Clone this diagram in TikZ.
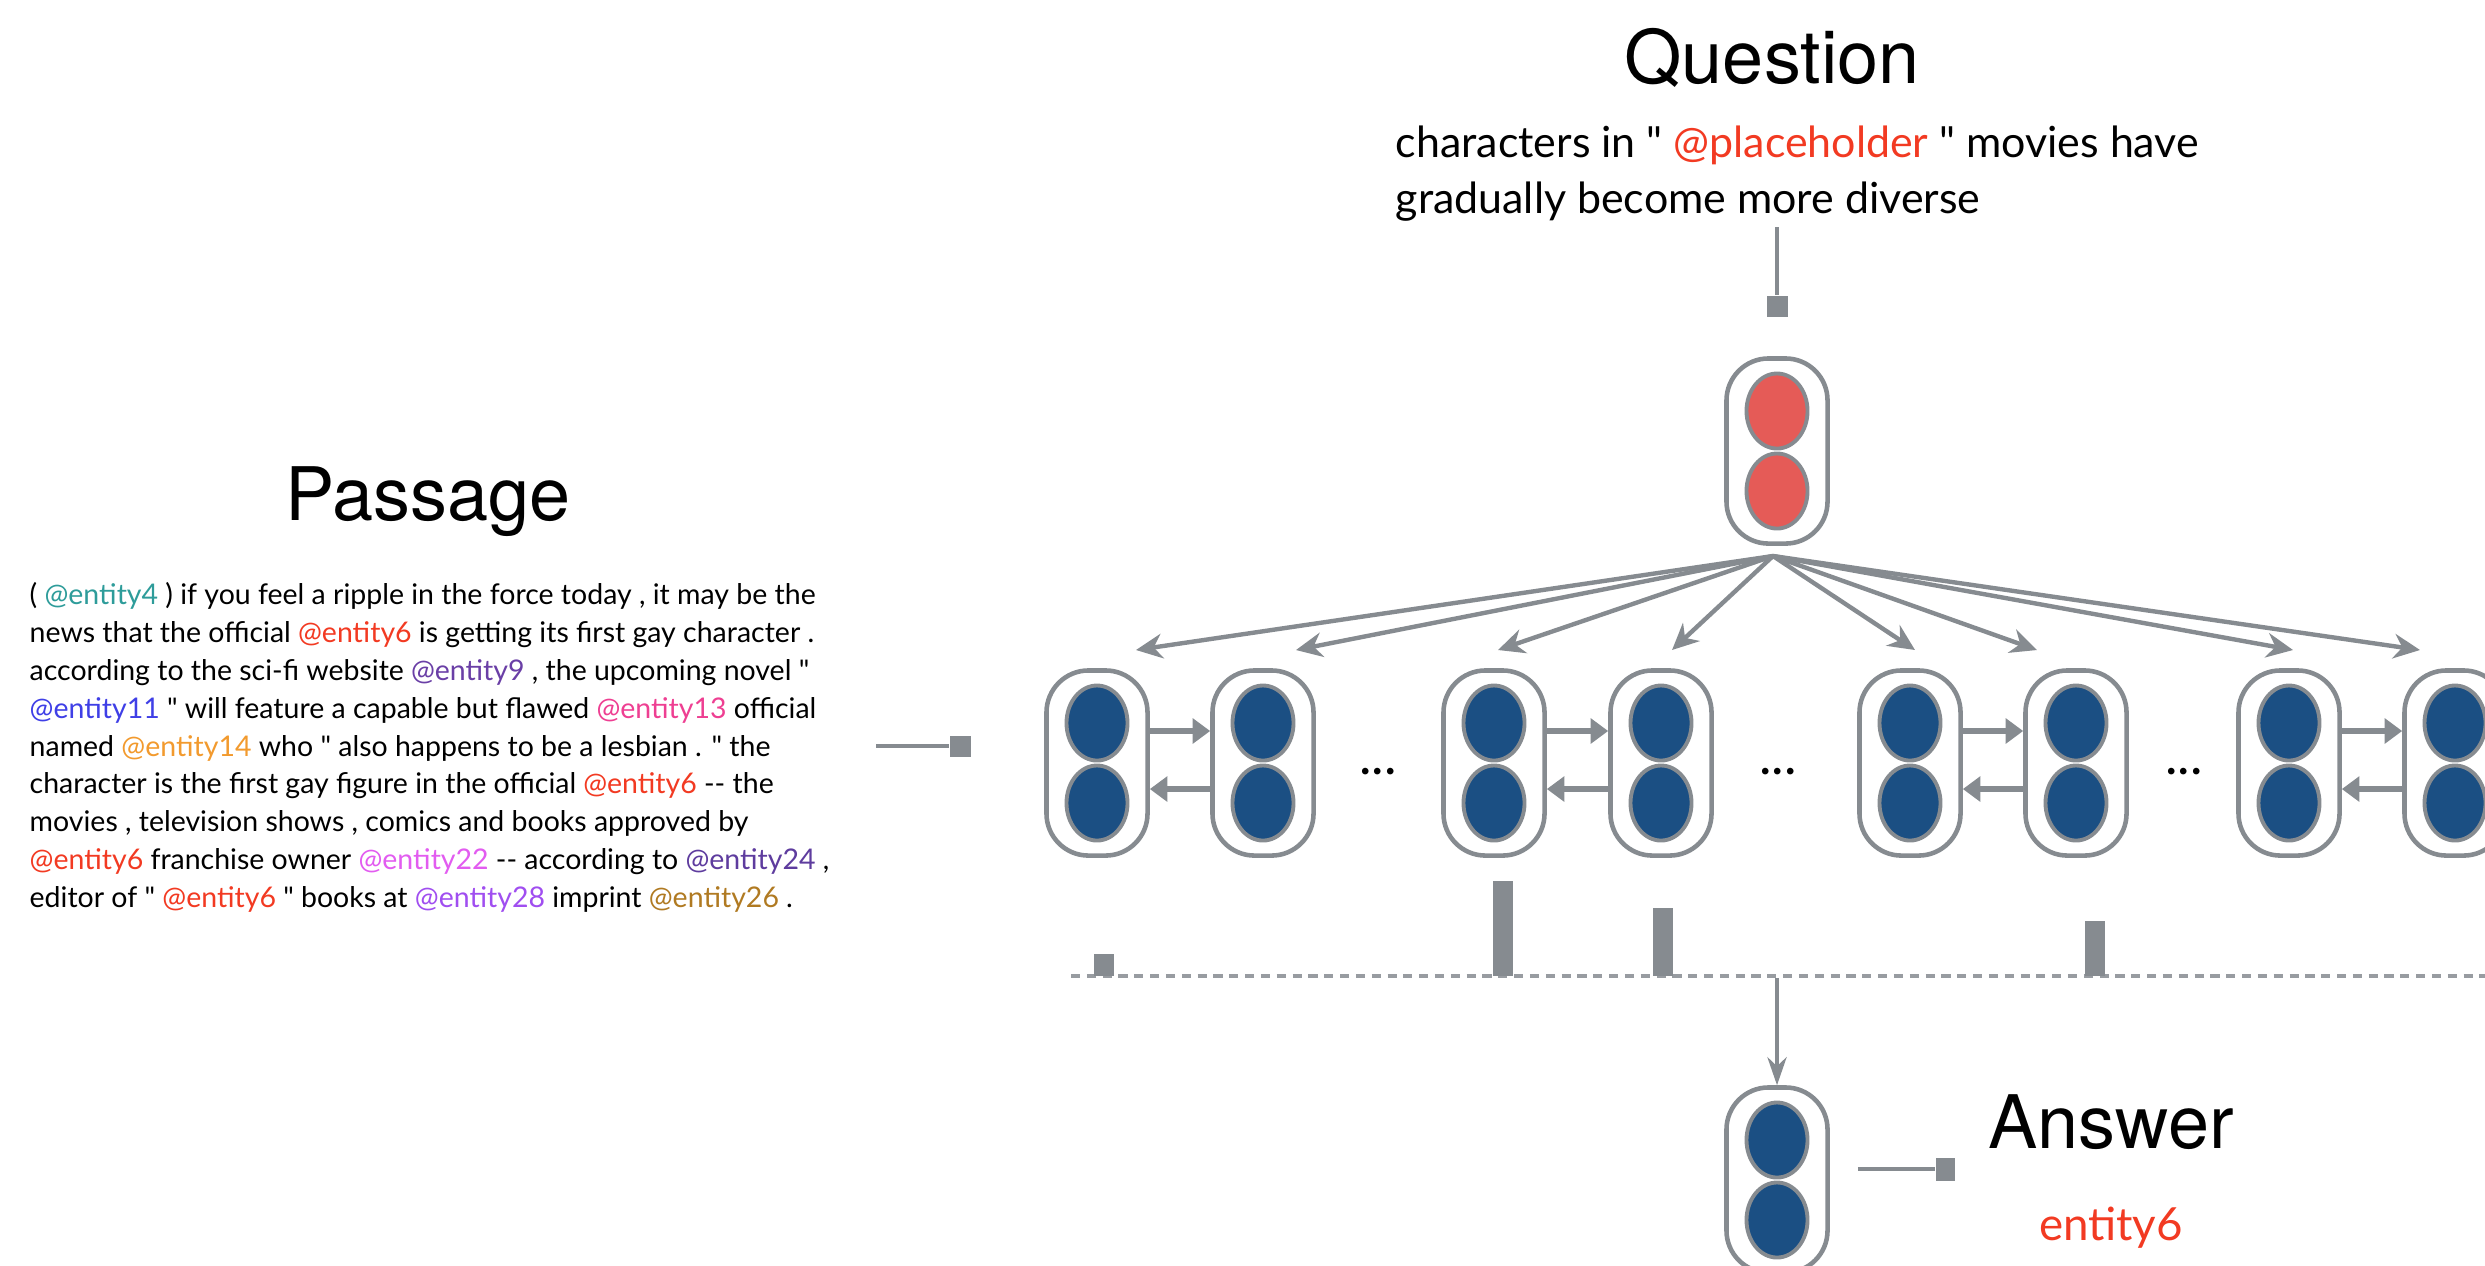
\documentclass[tikz,border=0pt]{standalone}
\usepackage{fontspec}
\setmainfont{Lato}[Ligatures=TeXOff]
\newfontfamily\titlefont{TeX Gyre Heros}
\usetikzlibrary{arrows.meta,positioning,shapes.geometric}

\definecolor{linegray}{HTML}{868B90}
\definecolor{cellblue}{HTML}{1B4F83}
\definecolor{qred}{HTML}{E55B57}
\definecolor{ered}{HTML}{F23A22}
\definecolor{eteal}{HTML}{2E9C9A}
\definecolor{epurple}{HTML}{6A3FA6}
\definecolor{eblue}{HTML}{3F3FE6}
\definecolor{epink}{HTML}{EE3F92}
\definecolor{eorange}{HTML}{F29A2E}
\definecolor{emagenta}{HTML}{E25CF0}
\definecolor{edpurple}{HTML}{5E3C9E}
\definecolor{eviolet}{HTML}{A04EF0}
\definecolor{ebrown}{HTML}{B07A22}

\newcommand{\qt}{\char34}

\tikzset{
  cell/.style={draw=linegray, line width=1.3pt, rounded corners=0.42cm,
    minimum width=1.01cm, minimum height=1.85cm, inner sep=0pt},
  unit/.style={ellipse, draw=linegray, line width=1.1pt, inner sep=0pt,
    minimum width=0.61cm, minimum height=0.75cm},
  bunit/.style={unit, fill=cellblue},
  runit/.style={unit, fill=qred},
  fan/.style={draw=linegray, line width=1.25pt, -{Stealth[length=7.5pt,width=7pt]}},
  rarr/.style={draw=linegray, line width=1.8pt, -{Triangle[length=5pt,width=7pt]}},
  downarr/.style={draw=linegray, line width=0.9pt, -{Stealth[length=8pt,width=5.5pt]}},
  conn/.style={draw=linegray, line width=1.1pt},
  sq/.style={fill=linegray, inner sep=0pt, minimum size=0.21cm},
  title/.style={font=\titlefont\fontsize{21}{24}\selectfont},
  dots/.style={font=\fontsize{15}{16}\selectfont},
}

\begin{document}
\begin{tikzpicture}[x=0.01cm, y=-0.01cm]
  \useasboundingbox (0,0) rectangle (2485,1265);

  % titles
  \node[title] (qtitle) at (1772,58) {Question};
  \node[title] (ptitle) at (428,502) {Passage};
  \node[title] (atitle) at (2111,1122) {Answer};
  \node[font=\fontsize{13}{15}\selectfont, text=ered] (ans) at (2111,1228) {entity6};

  % question text
  \node[anchor=north west, inner sep=0pt, align=left,
    font=\fontsize{12.2}{15.9}\selectfont] (qtext) at (1395,125)
    {characters in \qt{} \textcolor{ered}{@placeholder} \qt{} movies have\\
     gradually become more diverse};

  % passage text
  \node[anchor=north west, inner sep=0pt, align=left,
    font=\fontsize{8.1}{10.75}\selectfont] (ptext) at (29,582)
    {( \textcolor{eteal}{@entity4} ) if you feel a ripple in the force today , it may be the\\
     news that the official \textcolor{ered}{@entity6} is getting its first gay character .\\
     according to the sci-fi website \textcolor{epurple}{@entity9} , the upcoming novel \qt\\
     \textcolor{eblue}{@entity11} \qt{} will feature a capable but flawed \textcolor{epink}{@entity13} official\\
     named \textcolor{eorange}{@entity14} who \qt{} also happens to be a lesbian . \qt{} the\\
     character is the first gay figure in the official \textcolor{ered}{@entity6} -{}- the\\
     movies , television shows , comics and books approved by\\
     \textcolor{ered}{@entity6} franchise owner \textcolor{emagenta}{@entity22} -{}- according to \textcolor{edpurple}{@entity24} ,\\
     editor of \qt{} \textcolor{ered}{@entity6} \qt{} books at \textcolor{eviolet}{@entity28} imprint \textcolor{ebrown}{@entity26} .};

  % input connectors
  \coordinate (qin) at (1777,227);
  \node[sq] (qsq) at (1777,306) {};
  \draw[conn] (qin) -- (qsq);
  \coordinate (pin) at (876,746);
  \node[sq] (psq) at (960,746) {};
  \draw[conn] (pin) -- (psq);

  % question encoding
  \node[cell] (q) at (1777,451) {};
  \node[runit] (qt) at (1777,411) {};
  \node[runit] (qb) at (1777,491) {};

  % passage encoding
  \foreach \i/\x in {1/1097,2/1263,3/1494,4/1661,5/1910,6/2076,7/2289,8/2455} {
    \node[cell] (c\i) at (\x,763) {};
    \node[bunit] (c\i t) at (\x,723) {};
    \node[bunit] (c\i b) at (\x,803) {};
  }
  \foreach \a/\b in {1/2,3/4,5/6,7/8} {
    \draw[rarr] ([yshift=0.32cm]c\a.east) -- ([yshift=0.32cm]c\b.west);
    \draw[rarr] ([yshift=-0.26cm]c\b.west) -- ([yshift=-0.26cm]c\a.east);
  }
  \node[dots] (d1) at (1378,772) {...};
  \node[dots] (d2) at (1778,772) {...};
  \node[dots] (d3) at (2184,772) {...};

  % attention from question
  \coordinate (qs) at (1773,556);
  \foreach \i/\x in {1/1136,2/1296,3/1498,4/1672,5/1915,6/2037,7/2293,8/2420} {
    \coordinate (t\i) at (\x,650);
    \draw[fan] (qs) -- (t\i);
  }

  % attention weights
  \draw[linegray!85, line width=1.4pt, dash pattern=on 2.6pt off 1.9pt] (1071,976) -- (2485,976);
  \fill[linegray] (1094,954) rectangle (1114,976);
  \fill[linegray] (1493,881) rectangle (1513,976);
  \fill[linegray] (1653,908) rectangle (1673,976);
  \fill[linegray] (2085,921) rectangle (2105,976);

  % answer
  \node[cell] (a) at (1777,1180) {};
  \node[bunit] (at) at (1777,1140) {};
  \node[bunit] (ab) at (1777,1220) {};
  \coordinate (pool) at (1777,978);
  \draw[downarr] (pool) -- (a.north);
  \node[sq, minimum width=0.19cm, minimum height=0.23cm] (asq) at (1945,1169) {};
  \draw[conn] ([xshift=0.28cm]a.east |- asq) -- (asq);
\end{tikzpicture}
\end{document}
